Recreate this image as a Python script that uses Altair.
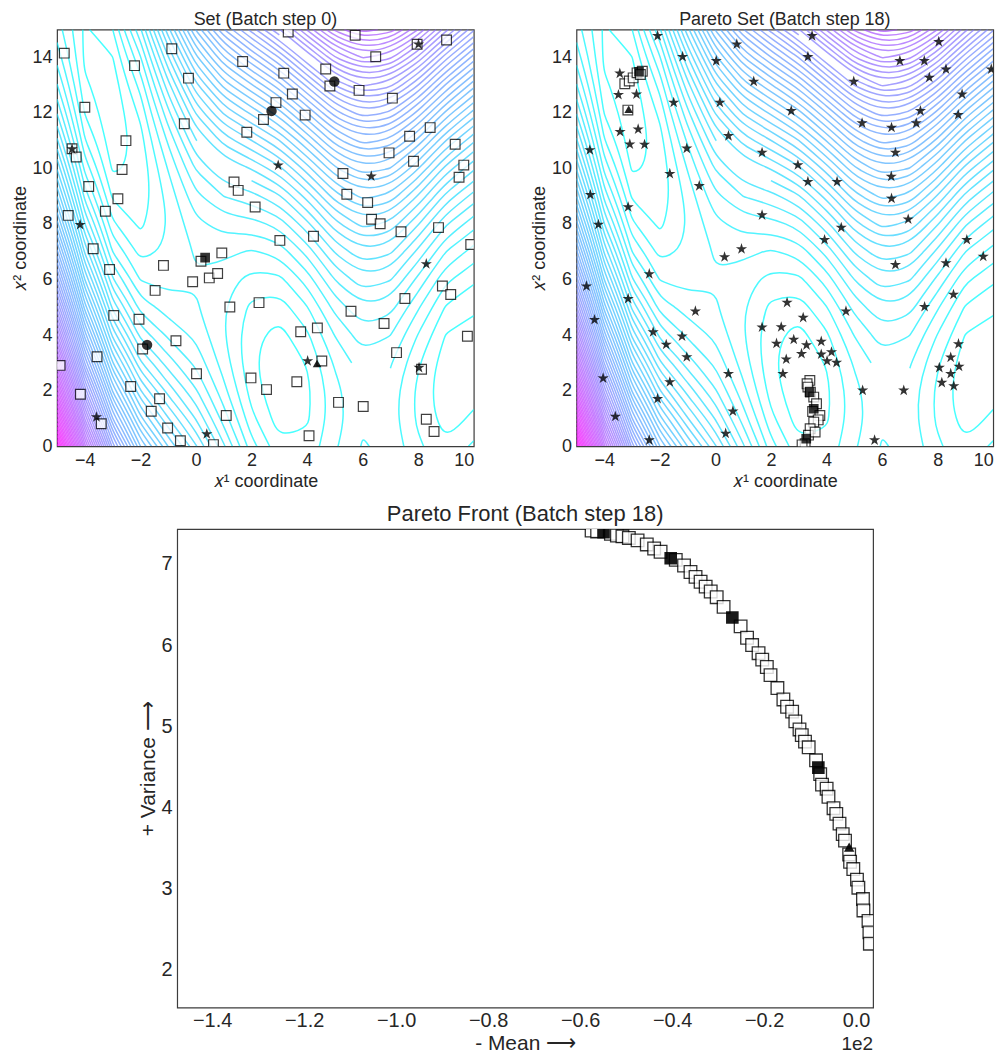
import altair as alt
import numpy as np
import pandas as pd

FONT = "Liberation Sans"
TXT = "#262626"
MINUS = "replace(datum.label, '-', '\u2212')"
STAR = ("M0,-1L0.2233,-0.3074L0.9511,-0.309L0.3614,0.1174L0.5878,0.809L0,0.38"
        "L-0.5878,0.809L-0.3614,0.1174L-0.9511,-0.309L-0.2233,-0.3074Z")

# ---------------- background field (values read on a 1-unit grid) ----------------
GRID_X1 = list(range(-5, 11))
GRID_X2 = list(range(0, 16))
FIELD = [  # one row per x1 value, 16 values for x2 = 0..15
    [308.1, 274.7, 243.4, 214.0, 186.6, 161.2, 137.9, 116.5, 97.1, 79.8, 64.4, 51.0, 39.6, 30.3, 22.9, 17.5],
    [212.0, 184.2, 158.3, 134.4, 112.6, 92.7, 74.8, 59.0, 45.1, 33.2, 23.4, 15.5, 9.6, 5.8, 3.9, 4.0],
    [143.0, 120.1, 99.2, 80.4, 63.5, 48.6, 35.7, 24.9, 16.0, 9.1, 4.2, 1.4, 0.5, 1.6, 4.8, 9.9],
    [100.1, 81.7, 65.3, 50.9, 38.5, 28.1, 19.7, 13.3, 8.9, 6.5, 6.1, 7.7, 11.3, 16.9, 24.5, 34.1],
    [74.8, 60.4, 47.9, 37.5, 29.0, 22.6, 18.1, 15.7, 15.3, 16.8, 20.4, 25.9, 33.5, 43.1, 54.6, 68.2],
    [55.6, 44.6, 35.6, 28.6, 23.6, 20.6, 19.6, 20.6, 23.6, 28.6, 35.6, 44.6, 55.6, 68.6, 83.6, 100.6],
    [35.8, 27.7, 21.6, 17.6, 15.5, 15.4, 17.3, 21.2, 27.2, 35.1, 45.0, 56.9, 70.9, 86.8, 104.7, 124.6],
    [17.1, 11.4, 7.8, 6.1, 6.4, 8.8, 13.1, 19.4, 27.8, 38.1, 50.4, 64.8, 81.1, 99.4, 119.8, 142.1],
    [6.2, 2.4, 0.6, 0.9, 3.1, 7.3, 13.5, 21.8, 32.0, 44.2, 58.4, 74.7, 92.9, 113.1, 135.3, 159.6],
    [6.6, 4.2, 3.8, 5.4, 9.0, 14.6, 22.2, 31.8, 43.4, 57.0, 72.6, 90.2, 109.8, 131.4, 155.0, 180.6],
    [14.3, 12.8, 13.3, 15.7, 20.2, 26.6, 35.1, 45.5, 58.0, 72.4, 88.9, 107.4, 127.8, 150.3, 174.7, 201.2],
    [20.4, 19.2, 20.0, 22.8, 27.6, 34.4, 43.2, 54.0, 66.8, 81.6, 98.4, 117.2, 138.0, 160.8, 185.6, 212.4],
    [18.7, 17.3, 17.9, 20.5, 25.1, 31.8, 40.4, 51.0, 63.6, 78.3, 94.9, 113.5, 134.1, 156.7, 181.4, 208.0],
    [11.0, 8.9, 8.8, 10.7, 14.7, 20.6, 28.5, 38.5, 50.4, 64.3, 80.3, 98.2, 118.1, 140.1, 164.0, 189.9],
    [5.8, 2.6, 1.3, 2.0, 4.7, 9.4, 16.1, 24.9, 35.6, 48.3, 63.0, 79.8, 98.5, 119.2, 141.9, 166.6],
    [11.0, 6.0, 2.9, 1.9, 2.9, 5.9, 10.9, 17.9, 26.9, 37.9, 50.9, 65.9, 82.9, 101.9, 122.9, 145.9],
]
LEVELS = list(range(5, 310, 5))

# ---------------- panel 1: Set (Batch step 0) ----------------
S0_SQ_X1 = [-4.74, -0.87, -2.21, 1.68, -0.27, -4.0, -0.42, 2.43, 1.83, -2.52, -4.46, -4.31, -2.66, -3.86,
            1.37, 1.52, -2.81, -4.60, -3.26, 2.13, -3.70, 0.93, 0.18, -1.17, -3.11, -0.12, 0.48, 0.78,
            -1.47, 1.22, 2.27, -2.96, -2.05, -0.72, -1.92, -3.56, 0.02, 1.98, -4.89, -2.35, -4.16, -1.31,
            -1.61, 1.09, -3.41, -1.02, -0.56, 0.63, 2.54,
            3.32, 5.73, 9.02, 6.47, 3.16, 4.67, 4.82, 3.47, 5.87, 7.07, 2.88, 3.93, 8.43, 7.69, 9.33, 6.95,
            7.83, 9.64, 9.47, 5.29, 5.43, 6.18, 6.32, 6.63, 7.38, 8.73, 9.89, 3.02, 4.23, 8.87, 9.17, 7.52,
            5.58, 6.77, 4.37, 3.77, 9.77, 7.22, 4.53, 8.12, 3.63, 5.13, 6.02, 8.29, 8.57, 4.07, 7.96]
S0_SQ_X2 = [14.15, 14.31, 13.70, 13.85, 13.25, 12.20, 11.61, 11.76, 11.30, 11.0, 10.71, 10.41, 9.96, 9.35,
            9.51, 9.21, 8.91, 8.31, 8.46, 8.61, 7.11, 6.96, 6.66, 6.51, 6.36, 5.92, 6.06, 6.22,
            5.61, 5.01, 5.17, 4.71, 4.57, 3.80, 3.50, 3.22, 2.61, 2.46, 2.91, 2.15, 1.87, 1.71,
            1.26, 1.11, 0.81, 0.66, 0.20, 0.06, 2.04,
            14.91, 14.79, 14.62, 14.02, 13.43, 13.58, 12.97, 12.68, 12.81, 12.53, 12.37, 11.92, 11.47, 11.16,
            10.87, 10.56, 10.26, 10.12, 9.68, 9.82, 9.07, 8.77, 8.17, 8.01, 7.72, 7.87, 7.26, 7.41, 7.56,
            5.77, 5.46, 5.32, 4.86, 4.42, 4.26, 4.12, 3.96, 3.37, 3.07, 2.77, 2.32, 1.58, 1.43, 0.97, 0.53,
            0.38, 14.47]
S0_STAR_X1 = [-4.17, -3.58, 0.39, -4.46, 8.01, 2.96, 6.31, 8.29, 4.02, 8.03]
S0_STAR_X2 = [7.97, 1.05, 0.44, 10.70, 14.47, 10.11, 9.72, 6.56, 3.07, 2.83]
S0_FILL_X1 = [0.33]
S0_FILL_X2 = [6.79]
S0_CIRC_X1 = [-1.76, 2.72, 4.98]
S0_CIRC_X2 = [3.65, 12.07, 13.13]
S0_TRI_X1 = [4.36]
S0_TRI_X2 = [2.98]

# ---------------- panel 2: Pareto Set (Batch step 18) ----------------
S18_STAR_X1 = [-2.08, 0.77, -1.18, 0.03, 1.38, -3.44, -3.49, -2.84, -1.50, 0.16, 0.47, -3.43, -2.78, -3.08,
               -2.55, -4.52, -1.03, -1.64, -0.58, -4.50, -3.14, -4.21, 0.94, 0.33, -2.38, -4.64, -3.14,
               -4.35, -0.72, -2.24, -1.20, -1.77, -1.03, -4.04, 0.47, -1.64, -2.08, -3.60, 0.63, 0.37, -2.38,
               3.48, 8.04, 3.33, 6.64, 7.52, 8.30, 9.93, 4.98, 7.70, 8.88, 2.73, 7.38, 8.74, 5.28, 7.23,
               6.34, 1.68, 6.48, 2.97, 3.33, 4.38, 6.33, 6.34, 1.68, 6.94, 4.53, 3.93, 9.05, 9.64, 8.30,
               6.48, 8.57, 2.58, 7.53, 4.70, 3.16, 1.68, 2.37, 2.20, 2.82, 3.28, 3.81, 4.18, 3.10, 3.81,
               4.02, 4.36, 2.55, 2.43, 8.75, 8.47, 8.77, 8.06, 8.47, 8.15, 8.58, 5.30, 6.78, 5.73]
S18_STAR_X2 = [14.77, 14.47, 14.02, 13.87, 13.13, 13.42, 12.65, 12.67, 12.37, 12.37, 11.17, 11.32, 11.41, 10.87,
               10.86, 10.66, 10.72, 9.81, 9.37, 9.05, 8.61, 7.98, 7.10, 6.81, 6.20, 5.76, 5.31,
               4.55, 4.86, 4.11, 3.96, 3.66, 3.21, 2.45, 2.61, 2.31, 1.71, 1.07, 1.26, 0.46, 0.22,
               14.77, 14.56, 14.02, 13.87, 13.87, 13.57, 13.57, 13.13, 13.27, 12.67, 12.07, 12.07, 11.93, 11.63, 11.63,
               11.47, 10.57, 10.57, 10.12, 9.52, 9.52, 9.71, 8.92, 8.32, 8.17, 7.87, 7.43, 7.43, 6.83, 6.59,
               6.53, 5.46, 5.17, 5.02, 4.86, 4.63, 4.28, 4.29, 3.70, 3.84, 3.64, 3.77, 3.39, 3.33, 3.31,
               3.07, 3.01, 3.13, 2.61, 3.68, 3.20, 2.87, 2.83, 2.61, 2.29, 2.17, 2.01, 2.01, 0.22]
S18_SQ_X1 = [-3.26, -3.10, -2.96, -2.82, -2.63, -2.70, -3.15,
             3.40, 3.30, 3.33, 3.42, 3.54, 3.64, 3.50, 3.76, 3.70, 3.54, 3.41, 3.35, 3.59, 3.23, 3.12]
S18_SQ_X2 = [13.05, 13.15, 13.26, 13.44, 13.50, 13.38, 12.10,
             2.37, 2.25, 2.13, 1.95, 1.77, 1.53, 1.25, 1.11, 0.95, 0.87, 0.63, 0.40, 0.51, 0.09, 0.05]
S18_FILL_X1 = [-2.75, 3.39, 3.54, 3.27]
S18_FILL_X2 = [13.48, 1.95, 1.35, 0.27]
S18_TRI_X1 = [-3.12]
S18_TRI_X2 = [12.13]

# ---------------- panel 3: Pareto Front (values shown in units of 1e2 on x) ----------------
PF_MEAN = [-0.575, -0.563, -0.533, -0.520, -0.508, -0.494, -0.475, -0.455, -0.439, -0.425, -0.392,
           -0.374, -0.360, -0.349, -0.338, -0.327, -0.316, -0.303, -0.288, -0.251, -0.237, -0.226,
           -0.212, -0.204, -0.194, -0.186, -0.171, -0.158, -0.150, -0.139, -0.132, -0.123, -0.118,
           -0.111, -0.103, -0.087, -0.078, -0.074, -0.064, -0.060, -0.049, -0.043, -0.036, -0.029,
           -0.024, -0.015, -0.013, -0.006, 0.002, 0.005, 0.015, 0.016, 0.027, 0.029, 0.030]
PF_VAR = [7.41, 7.40, 7.37, 7.35, 7.34, 7.32, 7.29, 7.24, 7.19, 7.15, 7.05,
          6.98, 6.90, 6.84, 6.78, 6.72, 6.66, 6.59, 6.47, 6.23, 6.09, 6.00,
          5.90, 5.82, 5.73, 5.63, 5.47, 5.33, 5.24, 5.18, 5.06, 4.96, 4.89,
          4.81, 4.74, 4.58, 4.41, 4.28, 4.23, 4.13, 3.99, 3.92, 3.80, 3.67,
          3.59, 3.42, 3.33, 3.24, 3.11, 3.01, 2.87, 2.73, 2.60, 2.46, 2.32]
PF_FILL_MEAN = [-0.549, -0.403, -0.269, -0.082]
PF_FILL_VAR = [7.39, 7.07, 6.34, 4.49]
PF_TRI_MEAN = [-0.015]
PF_TRI_VAR = [3.51]


def cool(t):
    return "#%02x%02x%02x" % (round(255 * t), round(255 * (1 - t)), 255)


def contour_paths():
    """Marching squares on FIELD, segments chained into paths (open and closed)."""
    Z = np.array(FIELD, dtype=float)
    xs, ys = GRID_X1, GRID_X2
    nx, ny = len(xs), len(ys)
    lo, hi = LEVELS[0], LEVELS[-1]
    open_rows, closed_rows = [], []
    pid = 0
    for L in LEVELS:
        col = cool((L - lo) / (hi - lo))
        pos, segs = {}, []
        for i in range(nx - 1):
            for j in range(ny - 1):
                corner = [(i, j), (i + 1, j), (i + 1, j + 1), (i, j + 1)]
                keys = [("h", i, j), ("v", i + 1, j), ("h", i, j + 1), ("v", i, j)]
                cross = {}
                for k in range(4):
                    (ia, ja), (ib, jb) = corner[k], corner[(k + 1) % 4]
                    za, zb = Z[ia, ja], Z[ib, jb]
                    if (za - L) * (zb - L) < 0:
                        f = (L - za) / (zb - za)
                        key = keys[k]
                        if key not in pos:
                            pos[key] = (xs[ia] + f * (xs[ib] - xs[ia]), ys[ja] + f * (ys[jb] - ys[ja]))
                        cross[k] = key
                ks = sorted(cross)
                if len(ks) == 2:
                    segs.append((cross[ks[0]], cross[ks[1]]))
                elif len(ks) == 4:
                    center = (Z[i, j] + Z[i + 1, j] + Z[i + 1, j + 1] + Z[i, j + 1]) / 4
                    if (center - L) * (Z[i, j] - L) > 0:
                        prs = [(0, 1), (2, 3)]
                    else:
                        prs = [(3, 0), (1, 2)]
                    for a, b in prs:
                        segs.append((cross[a], cross[b]))
        inc = {}
        for s, (a, b) in enumerate(segs):
            inc.setdefault(a, []).append(s)
            inc.setdefault(b, []).append(s)
        used = [False] * len(segs)

        def walk(start):
            path, cur = [start], start
            while True:
                nxt = None
                for s in inc[cur]:
                    if not used[s]:
                        used[s] = True
                        a, b = segs[s]
                        nxt = b if a == cur else a
                        break
                if nxt is None:
                    return path
                path.append(nxt)
                cur = nxt

        for key, lst in list(inc.items()):
            if len(lst) == 1 and not used[lst[0]]:
                path = walk(key)
                for o, kk in enumerate(path):
                    open_rows.append({"x": pos[kk][0], "y": pos[kk][1], "pid": pid, "ord": o, "col": col})
                pid += 1
        for s in range(len(segs)):
            if not used[s]:
                path = walk(segs[s][0])[:-1]
                for o, kk in enumerate(path):
                    closed_rows.append({"x": pos[kk][0], "y": pos[kk][1], "pid": pid, "ord": o, "col": col})
                pid += 1
    return pd.DataFrame(open_rows), pd.DataFrame(closed_rows)


CONT_OPEN, CONT_CLOSED = contour_paths()

XT = "\U0001D465\u00b9 coordinate"
YT = "\U0001D465\u00b2 coordinate"


def xenc(field):
    return alt.X(f"{field}:Q", scale=alt.Scale(domain=[-5, 10], nice=False, zero=False),
                 axis=alt.Axis(values=[-4, -2, 0, 2, 4, 6, 8, 10], title=XT, labelExpr=MINUS))


def yenc(field):
    return alt.Y(f"{field}:Q", scale=alt.Scale(domain=[0, 15], nice=False, zero=False),
                 axis=alt.Axis(values=[0, 2, 4, 6, 8, 10, 12, 14], title=YT))


def pts(x, y):
    return pd.DataFrame({"x1": x, "x2": y})


def contour_layer(df, interp):
    return alt.Chart(df).mark_line(interpolate=interp, strokeWidth=1.5, opacity=0.72, clip=True).encode(
        x=xenc("x"), y=yenc("y"), detail="pid:N", order="ord:Q", color=alt.Color("col:N", scale=None))


def top_panel(title, sq, star, fill, circ, tri):
    layers = [contour_layer(CONT_OPEN, "basis"), contour_layer(CONT_CLOSED, "basis-closed")]
    if sq is not None:
        layers.append(alt.Chart(pts(*sq)).mark_point(
            shape="square", filled=True, fill="white", stroke="black", strokeWidth=1.2,
            size=95, opacity=0.75, clip=True).encode(x=xenc("x1"), y=yenc("x2")))
    if star is not None:
        layers.append(alt.Chart(pts(*star)).mark_point(
            shape=STAR, filled=True, color="black", size=140, opacity=0.8, clip=True).encode(
            x=xenc("x1"), y=yenc("x2")))
    if fill is not None:
        layers.append(alt.Chart(pts(*fill)).mark_point(
            shape="square", filled=True, color="black", size=95, opacity=0.8, clip=True).encode(
            x=xenc("x1"), y=yenc("x2")))
    if circ is not None:
        layers.append(alt.Chart(pts(*circ)).mark_point(
            shape="circle", filled=True, color="black", size=110, opacity=0.8, clip=True).encode(
            x=xenc("x1"), y=yenc("x2")))
    if tri is not None:
        layers.append(alt.Chart(pts(*tri)).mark_point(
            shape="triangle-up", filled=True, color="black", size=75, opacity=0.85, clip=True).encode(
            x=xenc("x1"), y=yenc("x2")))
    return alt.layer(*layers).properties(
        width=418, height=418,
        title=alt.TitleParams(title, fontSize=18, font=FONT, color=TXT, fontWeight="normal", offset=1))


left = top_panel("Set (Batch step 0)", (S0_SQ_X1, S0_SQ_X2), (S0_STAR_X1, S0_STAR_X2),
                 (S0_FILL_X1, S0_FILL_X2), (S0_CIRC_X1, S0_CIRC_X2), (S0_TRI_X1, S0_TRI_X2))
right = top_panel("Pareto Set (Batch step 18)", (S18_SQ_X1, S18_SQ_X2), (S18_STAR_X1, S18_STAR_X2),
                  (S18_FILL_X1, S18_FILL_X2), None, (S18_TRI_X1, S18_TRI_X2))

# ---------------- bottom ----------------
BX = dict(scale=alt.Scale(domain=[-1.476, 0.037], nice=False, zero=False))
BY = dict(scale=alt.Scale(domain=[1.533, 7.43], nice=False, zero=False))


def bx(field):
    return alt.X(f"{field}:Q", **BX, axis=alt.Axis(values=[-1.4, -1.2, -1.0, -0.8, -0.6, -0.4, -0.2, 0.0],
                                                   format=".1f", labelExpr=MINUS,
                                                   title="- Mean \u27f6", labelFontSize=20,
                                                   titleFontSize=21, labelPadding=3, titlePadding=2))


def by(field):
    return alt.Y(f"{field}:Q", **BY, axis=alt.Axis(values=[2, 3, 4, 5, 6, 7], title="+ Variance \u27f6",
                                                   labelFontSize=20, titleFontSize=21))


pf = pd.DataFrame({"m": PF_MEAN, "v": PF_VAR})
pff = pd.DataFrame({"m": PF_FILL_MEAN, "v": PF_FILL_VAR})
pft = pd.DataFrame({"m": PF_TRI_MEAN, "v": PF_TRI_VAR})

b_sq = alt.Chart(pf).mark_point(shape="square", filled=True, fill="white", stroke="black",
                                strokeWidth=1.3, size=160, opacity=0.8, clip=True).encode(
    x=bx("m"), y=by("v"))
b_fill = alt.Chart(pff).mark_point(shape="square", filled=True, color="black", size=160,
                                   opacity=0.9, clip=True).encode(x=bx("m"), y=by("v"))
b_tri = alt.Chart(pft).mark_point(shape="triangle-up", filled=True, color="black", size=110,
                                  opacity=0.9, clip=True).encode(x=bx("m"), y=by("v"))
b_off = alt.Chart(pft).mark_text(text="1e2", align="right", baseline="middle", fontSize=19, font=FONT,
                                 color=TXT).encode(x=alt.value(698), y=alt.value(517))

bottom = alt.layer(b_sq, b_fill, b_tri, b_off).properties(
    width=698, height=480,
    title=alt.TitleParams("Pareto Front (Batch step 18)", fontSize=22, font=FONT, color=TXT,
                          fontWeight="normal", offset=3))

chart = alt.vconcat(
    alt.hconcat(left, right, spacing=55),
    bottom, spacing=11, center=True
).configure(
    font=FONT,
    padding={"left": 2, "top": 0, "right": 5, "bottom": 0},
).configure_view(
    stroke="#3c3c3c", strokeWidth=1.2
).configure_axis(
    domain=False, ticks=False, grid=False,
    labelFont=FONT, titleFont=FONT, labelColor=TXT, titleColor=TXT,
    labelFontSize=18, titleFontSize=18, titleFontWeight="normal", labelPadding=5, titlePadding=3
)

chart.save("out.html", embed_options={"renderer": "svg", "actions": False})
